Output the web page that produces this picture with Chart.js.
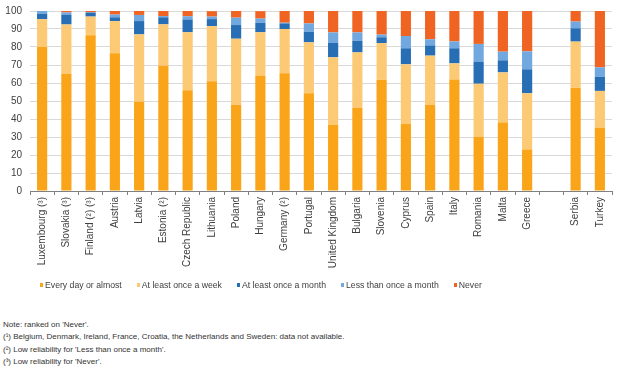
<!DOCTYPE html>
<html>
<head>
<meta charset="utf-8">
<script src="https://cdn.jsdelivr.net/npm/chart.js@4"></script>
<style>
  body { margin: 0; background: #fff; font-family: "Liberation Sans", Arial, sans-serif; }
  #wrap { position: relative; width: 628px; height: 283px; margin-top: -3px; }
  #legend { position: absolute; left: 40px; top: 279px; font-size: 8.7px; color: #404040; display: flex; line-height: 12px; }
  #legend .item { display: flex; align-items: center; margin-right: 15px; }
  #legend .box { width: 3px; height: 4px; margin-right: 2px; }
  #notes { position: absolute; left: 3px; top: 319px; font-size: 8px; color: #333; line-height: 12.3px; }
</style>
</head>
<body>
<div id="wrap"><canvas id="chartfreq"></canvas></div>
<div id="legend"></div>
<div id="notes">
  Note: ranked on 'Never'.<br>
  (¹) Belgium, Denmark, Ireland, France, Croatia, the Netherlands and Sweden: data not available.<br>
  (²) Low reliability for 'Less than once a month'.<br>
  (³) Low reliability for 'Never'.
</div>
<script>
const countries = [
  'Luxembourg (³)', 'Slovakia (³)', 'Finland (²) (³)', 'Austria', 'Latvia', 'Estonia (²)',
  'Czech Republic', 'Lithuania', 'Poland', 'Hungary', 'Germany (²)', 'Portugal',
  'United Kingdom', 'Bulgaria', 'Slovenia', 'Cyprus', 'Spain', 'Italy', 'Romania',
  'Malta', 'Greece', '', 'Serbia', 'Turkey'
];
const everyDay   = [80, 65, 86.5, 76.5, 49.6, 69.6, 56, 61, 47.8, 64, 65.4, 54.3, 36.7, 46.1, 61.7, 37.2, 47.8, 61.9, 30, 38.1, 23.1, null, 57.4, 35.2];
const weekly     = [15.5, 27.5, 10.4, 17.9, 37.4, 23, 32.2, 30.6, 36.8, 24.2, 24.6, 28.3, 37.6, 30.9, 20.5, 33.2, 27.4, 9, 29.6, 27.8, 31.2, null, 25.6, 20.4];
const monthly    = [3, 5.3, 2.2, 2.1, 7.4, 3.9, 7.1, 3.9, 7.6, 5.2, 3.1, 5.9, 8.1, 6.5, 3.2, 8.9, 5.7, 8.4, 12.3, 6.7, 13.3, null, 7.4, 7.9];
const lessMonthly = [1.5, 1.4, 0.2, 1.5, 3.4, 0.7, 1.8, 1.4, 4.1, 2.4, 0.4, 4.6, 5.7, 4.6, 1.5, 6.8, 3.4, 3.8, 9.8, 4.8, 10, null, 3.7, 5.2];
const never      = [0, 0.8, 0.7, 2, 2.2, 2.8, 3, 3, 3.7, 4.1, 6.5, 6.9, 11.9, 11.9, 13.1, 13.9, 15.7, 16.9, 18.3, 22.6, 22.4, null, 5.9, 31.3];

const textColor = '#404040';
const font = { family: '"Liberation Sans", Arial, sans-serif', size: 10 };

const data = {
  labels: countries,
  datasets: [
    { label: 'Every day or almost', data: everyDay, backgroundColor: '#FAA519' },
    { label: 'At least once a week', data: weekly, backgroundColor: '#FCC975' },
    { label: 'At least once a month', data: monthly, backgroundColor: '#286EB4' },
    { label: 'Less than once a month', data: lessMonthly, backgroundColor: '#71A8DF' },
    { label: 'Never', data: never, backgroundColor: '#F06423' },
  ]
};

const config = {
  type: 'bar',
  data: data,
  options: {
    responsive: true,
    maintainAspectRatio: false,
    animation: false,
    datasets: { bar: { categoryPercentage: 1, barPercentage: 0.42 } },
    layout: { padding: { top: 11, right: 16, left: 0, bottom: 4 } },
    scales: {
      x: {
        stacked: true,
        afterFit: (scale) => { scale.height = 85; },
        grid: { drawOnChartArea: false, drawTicks: true, tickLength: 4, color: '#808080', offset: true },
        border: { display: true, color: '#808080' },
        ticks: { color: textColor, font: font, minRotation: 90, maxRotation: 90, padding: 2, autoSkip: false },
      },
      y: {
        stacked: true,
        min: 0,
        max: 100,
        afterFit: (scale) => { scale.width = 30; },
        grid: { color: '#d9d9d9', drawTicks: false },
        border: { display: false },
        ticks: { stepSize: 10, color: textColor, font: font, padding: 8 },
      },
    },
    plugins: {
      tooltip: { enabled: false },
      legend: { display: false },
    },
  },
};

const chartfreq = new Chart(document.getElementById('chartfreq'), config);

// legend laid out by hand, like the source figure
const legendEl = document.getElementById('legend');
data.datasets.forEach((ds) => {
  const item = document.createElement('div');
  item.className = 'item';
  const box = document.createElement('span');
  box.className = 'box';
  box.style.background = ds.backgroundColor;
  item.appendChild(box);
  item.appendChild(document.createTextNode(ds.label));
  legendEl.appendChild(item);
});
</script>
</body>
</html>
